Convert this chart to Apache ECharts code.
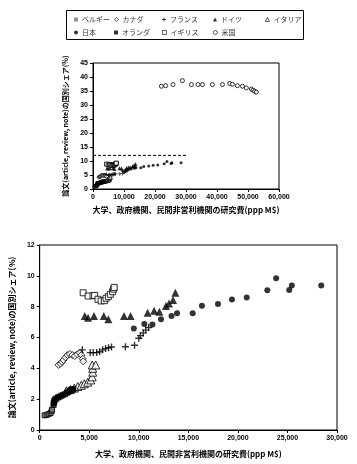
<!DOCTYPE html>
<html><head><meta charset="utf-8">
<script src="https://cdn.jsdelivr.net/npm/echarts@6/dist/echarts.min.js"></script>
<style>html,body{margin:0;padding:0;background:#fff}#c{width:357px;height:464px}</style>
</head><body><div id="c"></div>
<script>
const seriesNames = ['ベルギー','カナダ','フランス','ドイツ','イタリア','日本','オランダ','イギリス','米国'];
const belgium = [[500,0.95],[700,0.98],[900,1.03],[1100,1.10],[1200,1.22],[1250,1.32]];
const canada = [[1900,4.22],[2100,4.30],[2250,4.42],[2400,4.54],[2600,4.71],[2800,4.86],[3050,4.93],[3300,4.86],[3550,4.80],[3800,4.91],[4050,5.01],[4200,4.86],[4350,4.62],[4400,4.45]];
const france = [[4300,5.20],[5100,5.02],[5400,5.02],[5750,5.02],[6050,5.08],[6350,5.20],[6650,5.28],[6950,5.34],[7250,5.38],[8650,5.40],[9570,5.50],[10000,5.95],[10170,6.12],[10450,6.30],[10700,6.48],[11000,6.65]];
const germany = [[4550,7.39],[4880,7.28],[5480,7.39],[6470,7.39],[6930,7.18],[8510,7.39],[9170,7.39],[10890,7.61],[11550,7.74],[12080,7.67],[12740,8.04],[13040,8.21],[13460,8.43],[13690,8.90]];
const italy = [[2700,2.55],[3100,2.62],[3500,2.72],[3850,2.82],[4200,2.90],[4500,3.00],[4850,3.10],[5150,3.25],[5300,3.45],[5350,3.75],[5350,4.00],[5300,4.22],[5650,4.22]];
const japan = [[9500,6.59],[10560,6.87],[11380,6.85],[12240,7.18],[13300,7.39],[13860,7.57],[15440,7.57],[16370,8.06],[17990,8.17],[19400,8.47],[20890,8.60],[22970,9.06],[23860,9.84],[25180,9.08],[25440,9.38],[28410,9.38]];
const netherlands = [[1400,1.62],[1420,1.75],[1450,1.84],[1500,1.92],[1580,1.99],[1700,2.05],[1850,2.12],[2000,2.16],[2180,2.22],[2350,2.27],[2570,2.33],[2750,2.42],[2900,2.48],[3050,2.55],[3170,2.60],[3300,2.63],[3400,2.65]];
const uk = [[4390,8.90],[4890,8.69],[5380,8.71],[5545,8.73],[5880,8.48],[6200,8.37],[6530,8.39],[6700,8.54],[6930,8.65],[7130,8.80],[7360,8.97],[7460,9.14],[7520,9.25]];
const usa = [[22060,36.7],[23450,36.9],[25810,37.3],[28840,38.7],[31740,37.3],[33870,37.3],[35290,37.3],[38520,37.3],[41740,37.3],[44100,37.7],[44970,37.4],[46580,36.9],[48190,36.7],[49480,36.1],[51100,35.7],[51610,35.3],[52160,34.9],[52710,34.6]];
const zoomBox = [[0,12],[30000,12]];
const topXTicks = {min:0,max:60000,interval:10000};
const topYTicks = {min:0,max:45,interval:5};
const botXTicks = {min:0,max:30000,interval:5000};
const botYTicks = {min:0,max:12,interval:2};
const yTitle = '論文(article, review, note)の国別シェア(%)';
const xTitle = '大学、政府機関、民間非営利機関の研究費(ppp M$)';

const dataBy = [belgium,canada,france,germany,italy,japan,netherlands,uk,usa];
const plusPath = 'path://M4,0H6V4H10V6H6V10H4V6H0V4H4Z';
const styles = [
  {symbol:'rect', fill:'#777', stroke:'#000', size:5, sizeTop:3},
  {symbol:'diamond', fill:'#fff', stroke:'#000', size:7, sizeTop:4},
  {symbol:plusPath, fill:'#000', stroke:'#000', size:7, sizeTop:4},
  {symbol:'triangle', fill:'#000', stroke:'#000', size:8, sizeTop:4},
  {symbol:'triangle', fill:'#fff', stroke:'#000', size:8, sizeTop:4},
  {symbol:'circle', fill:'#000', stroke:'#000', size:6, sizeTop:3},
  {symbol:'rect', fill:'#000', stroke:'#000', size:6, sizeTop:4},
  {symbol:'rect', fill:'#fff', stroke:'#000', size:6, sizeTop:4},
  {symbol:'circle', fill:'#fff', stroke:'#000', size:6, sizeTop:4}
];
const font = 'Liberation Sans, DejaVu Sans, sans-serif';
const jfont = 'Noto Sans CJK JP, sans-serif';
const fmt = v => v.toLocaleString('en-US');
function axisCommon(){
  return {
    axisLine:{show:true,onZero:false,lineStyle:{color:'#000',width:1}},
    axisTick:{show:true,inside:false,length:3,lineStyle:{color:'#000'}},
    splitLine:{show:false},
    axisLabel:{color:'#000',fontSize:7,fontWeight:'bold',fontFamily:font,formatter:fmt,margin:5},
    nameTextStyle:{color:'#000',fontSize:8,fontWeight:'bold',fontFamily:jfont}
  };
}
const grids = [
  {left:93,top:63,right:78,bottom:275,show:true,borderColor:'#000',borderWidth:1},
  {left:34,top:245,right:20,bottom:34,show:true,borderColor:'#000',borderWidth:1}
];
const xAxes = [
  Object.assign(axisCommon(),{type:'value',gridIndex:0,min:topXTicks.min,max:topXTicks.max,interval:topXTicks.interval,name:xTitle,nameLocation:'middle',nameGap:17}),
  Object.assign(axisCommon(),{type:'value',gridIndex:1,min:botXTicks.min,max:botXTicks.max,interval:botXTicks.interval,name:xTitle,nameLocation:'middle',nameGap:20})
];
const yAxes = [
  Object.assign(axisCommon(),{type:'value',gridIndex:0,min:topYTicks.min,max:topYTicks.max,interval:topYTicks.interval,name:yTitle,nameLocation:'middle',nameGap:10,
    nameTextStyle:{color:'#000',fontSize:7,fontWeight:'bold',fontFamily:jfont}}),
  Object.assign(axisCommon(),{type:'value',gridIndex:1,min:botYTicks.min,max:botYTicks.max,interval:botYTicks.interval,name:yTitle,nameLocation:'middle',nameGap:10})
];
const series = [];
seriesNames.forEach((n,i)=>{
  const s = styles[i];
  [0,1].forEach(g=>{
    series.push({
      name:n,type:'scatter',xAxisIndex:g,yAxisIndex:g,data:dataBy[i],
      symbol:s.symbol,symbolSize:g===0?s.sizeTop:s.size,
      itemStyle:{color:s.fill,borderColor:s.stroke,borderWidth:(s.fill==='#fff'||i===0)?1:0},
      silent:true,animation:false
    });
  });
});
series.push({type:'line',xAxisIndex:0,yAxisIndex:0,data:zoomBox,symbol:'none',
  lineStyle:{color:'#000',width:1,type:[3,2]},silent:true,animation:false});
const legendPos = [[74,16],[114,16],[162,16],[213,16],[265,16],[74,29],[114,29],[162,29],[213,29]];
const legends = seriesNames.map((n,i)=>({
  data:[{name:n,icon:styles[i].symbol,itemStyle:{borderWidth:styles[i].fill==='#fff'?0.8:0}}],
  left:legendPos[i][0],top:legendPos[i][1],
  itemWidth:4,itemHeight:4,itemGap:0,padding:0,selectedMode:false,
  textStyle:{fontSize:7,color:'#333',fontFamily:jfont,padding:[0,0,0,-1]}
}));
const chart = echarts.init(document.getElementById('c'),null,{renderer:'canvas'});
chart.setOption({
  animation:false,backgroundColor:'#fff',
  grid:grids,xAxis:xAxes,yAxis:yAxes,series:series,legend:legends,
  graphic:[{type:'rect',shape:{x:66.5,y:10.5,width:237,height:29},style:{fill:'none',stroke:'#000',lineWidth:1},silent:true}]
});
</script></body></html>
